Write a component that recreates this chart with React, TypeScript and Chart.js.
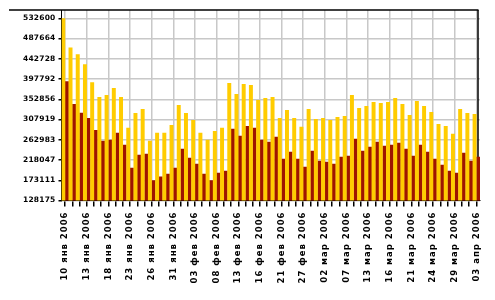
import React, { useEffect, useRef } from "react";
import { Chart, registerables } from "chart.js";

Chart.register(...registerables);

const dates: string[] = [
  "10 янв 2006", "11 янв 2006", "12 янв 2006", "13 янв 2006", "16 янв 2006", "17 янв 2006",
  "18 янв 2006", "19 янв 2006", "20 янв 2006", "23 янв 2006", "24 янв 2006", "25 янв 2006",
  "26 янв 2006", "27 янв 2006", "30 янв 2006", "31 янв 2006", "01 фев 2006", "02 фев 2006",
  "03 фев 2006", "06 фев 2006", "07 фев 2006", "08 фев 2006", "09 фев 2006", "10 фев 2006",
  "13 фев 2006", "14 фев 2006", "15 фев 2006", "16 фев 2006", "17 фев 2006", "20 фев 2006",
  "21 фев 2006", "22 фев 2006", "24 фев 2006", "27 фев 2006", "28 фев 2006", "01 мар 2006",
  "02 мар 2006", "03 мар 2006", "06 мар 2006", "07 мар 2006", "09 мар 2006", "10 мар 2006",
  "13 мар 2006", "14 мар 2006", "15 мар 2006", "16 мар 2006", "17 мар 2006", "20 мар 2006",
  "21 мар 2006", "22 мар 2006", "23 мар 2006", "24 мар 2006", "27 мар 2006", "28 мар 2006",
  "29 мар 2006", "30 мар 2006", "31 мар 2006", "03 апр 2006",
];

const yellowSeries: number[] = [
  532600, 468000, 452800, 430700, 390900, 357800, 362200, 377700, 357800, 289400,
  322500, 331300, 260700, 278300, 278300, 296000, 340100, 322500, 307000, 278300,
  262900, 282700, 289400, 388700, 364400, 386500, 384300, 351200, 355600, 357800,
  311400, 329100, 311400, 291600, 331300, 309200, 311400, 307000, 313600, 315900,
  362200, 333500, 337900, 346800, 344600, 346800, 355600, 342400, 318100, 349000,
  337900, 324700, 298200, 293800, 276100, 331300, 322500, 320300,
];

const redSeries: number[] = [
  393100, 342400, 323200, 311400, 284900, 260700, 262900, 278300, 251800, 201000,
  229700, 232000, 173100, 181200, 187800, 201000, 243000, 223100, 209900, 187800,
  173100, 190000, 194400, 287200, 271700, 293800, 289400, 262900, 258400, 269500,
  220900, 236400, 220900, 203200, 238600, 216500, 214300, 209900, 225300, 227500,
  265100, 238600, 247400, 258400, 249600, 251800, 256200, 243000, 227500, 251800,
  236400, 220900, 207700, 194400, 190000, 234200, 216500, 225300,
];

const yTickValues: number[] = [
  128175, 173111, 218047, 262983, 307919, 352856, 397792, 442728, 487664, 532600,
];

const Y_MIN = 128175;
const Y_MAX = 551000;
const LABEL_EVERY = 3;
const X_LETTER_SPACING = "1px";
const Y_LETTER_SPACING = "0.2px";

function wrapLabels(scale: any, spacing: string) {
  if (!scale || scale.__wrapped) return;
  const orig = scale.drawLabels.bind(scale);
  scale.drawLabels = (area: any) => {
    const ctx = scale.ctx;
    ctx.save();
    try {
      ctx.letterSpacing = spacing;
    } catch (e) {}
    orig(area);
    ctx.restore();
  };
  scale.__wrapped = true;
}

const framePlugin = {
  id: "frame",
  beforeDraw(chart: any) {
    wrapLabels(chart.scales.x, X_LETTER_SPACING);
    wrapLabels(chart.scales.y, Y_LETTER_SPACING);
  },
  beforeDatasetsDraw(chart: any) {
    const { ctx, chartArea } = chart;
    ctx.save();
    ctx.strokeStyle = "#000";
    ctx.lineWidth = 1.5;
    ctx.beginPath();
    ctx.moveTo(chartArea.right - 2, chartArea.top);
    ctx.lineTo(chartArea.right - 2, chartArea.bottom);
    ctx.stroke();
    ctx.restore();
  },
  afterDraw(chart: any) {
    const { ctx, chartArea } = chart;
    ctx.save();
    ctx.strokeStyle = "#000";
    ctx.lineWidth = 1.5;
    ctx.beginPath();
    ctx.moveTo(9, chartArea.top);
    ctx.lineTo(chartArea.right - 1.5, chartArea.top);
    ctx.stroke();
    ctx.restore();
  },
};

export default function App() {
  const canvasRef = useRef<HTMLCanvasElement | null>(null);

  useEffect(() => {
    const canvas = canvasRef.current;
    if (!canvas) return;
    const chart = new Chart(canvas, {
      type: "bar",
      data: {
        labels: dates,
        datasets: [
          {
            label: "A",
            data: yellowSeries,
            backgroundColor: "#FFCC00",
            borderWidth: 0,
            categoryPercentage: 1,
            barPercentage: 1.1,
          },
          {
            label: "B",
            data: redSeries,
            backgroundColor: "#9E1500",
            borderWidth: 0,
            categoryPercentage: 1,
            barPercentage: 1.1,
          },
        ],
      },
      options: {
        responsive: false,
        animation: false,
        devicePixelRatio: 1,
        layout: { padding: { top: 10, right: 15, left: 0, bottom: 0 } },
        plugins: {
          legend: { display: false },
          tooltip: { enabled: false },
          title: { display: false },
        },
        scales: {
          x: {
            type: "category",
            offset: true,
            grid: {
              offset: false,
              color: (c: any) => (c.index % LABEL_EVERY === 0 ? "#c8c8c8" : "rgba(0,0,0,0)"),
              tickColor: "#000",
              tickLength: 6,
              lineWidth: 1.5,
            },
            border: { color: "#000", width: 1 },
            ticks: {
              autoSkip: false,
              maxRotation: 90,
              minRotation: 90,
              padding: 5,
              color: "#000",
              font: { family: "DejaVu Sans", size: 8.5, weight: "bold" },
              callback: (_v: any, i: number) => (i % LABEL_EVERY === 0 ? dates[i] : ""),
            },
            afterFit: (s: any) => {
              s.height = 99.5;
            },
          },
          y: {
            min: Y_MIN,
            max: Y_MAX,
            afterBuildTicks: (s: any) => {
              s.ticks = yTickValues.map((v) => ({ value: v }));
            },
            grid: {
              color: "#c8c8c8",
              tickColor: "#000",
              tickLength: 3,
              lineWidth: 1.5,
            },
            border: { color: "#000", width: 1 },
            ticks: {
              padding: 3,
              color: "#000",
              font: { family: "DejaVu Sans", size: 7.5, weight: "bold" },
              callback: (v: any) => String(v),
            },
            afterFit: (s: any) => {
              s.width = 61.5;
            },
          },
        },
      },
      plugins: [framePlugin],
    });
    return () => chart.destroy();
  }, []);

  return (
    <div style={{ position: "fixed", left: 0, top: 0, width: 495, height: 300, background: "#fff" }}>
      <canvas ref={canvasRef} width={495} height={300} style={{ display: "block" }} />
    </div>
  );
}
